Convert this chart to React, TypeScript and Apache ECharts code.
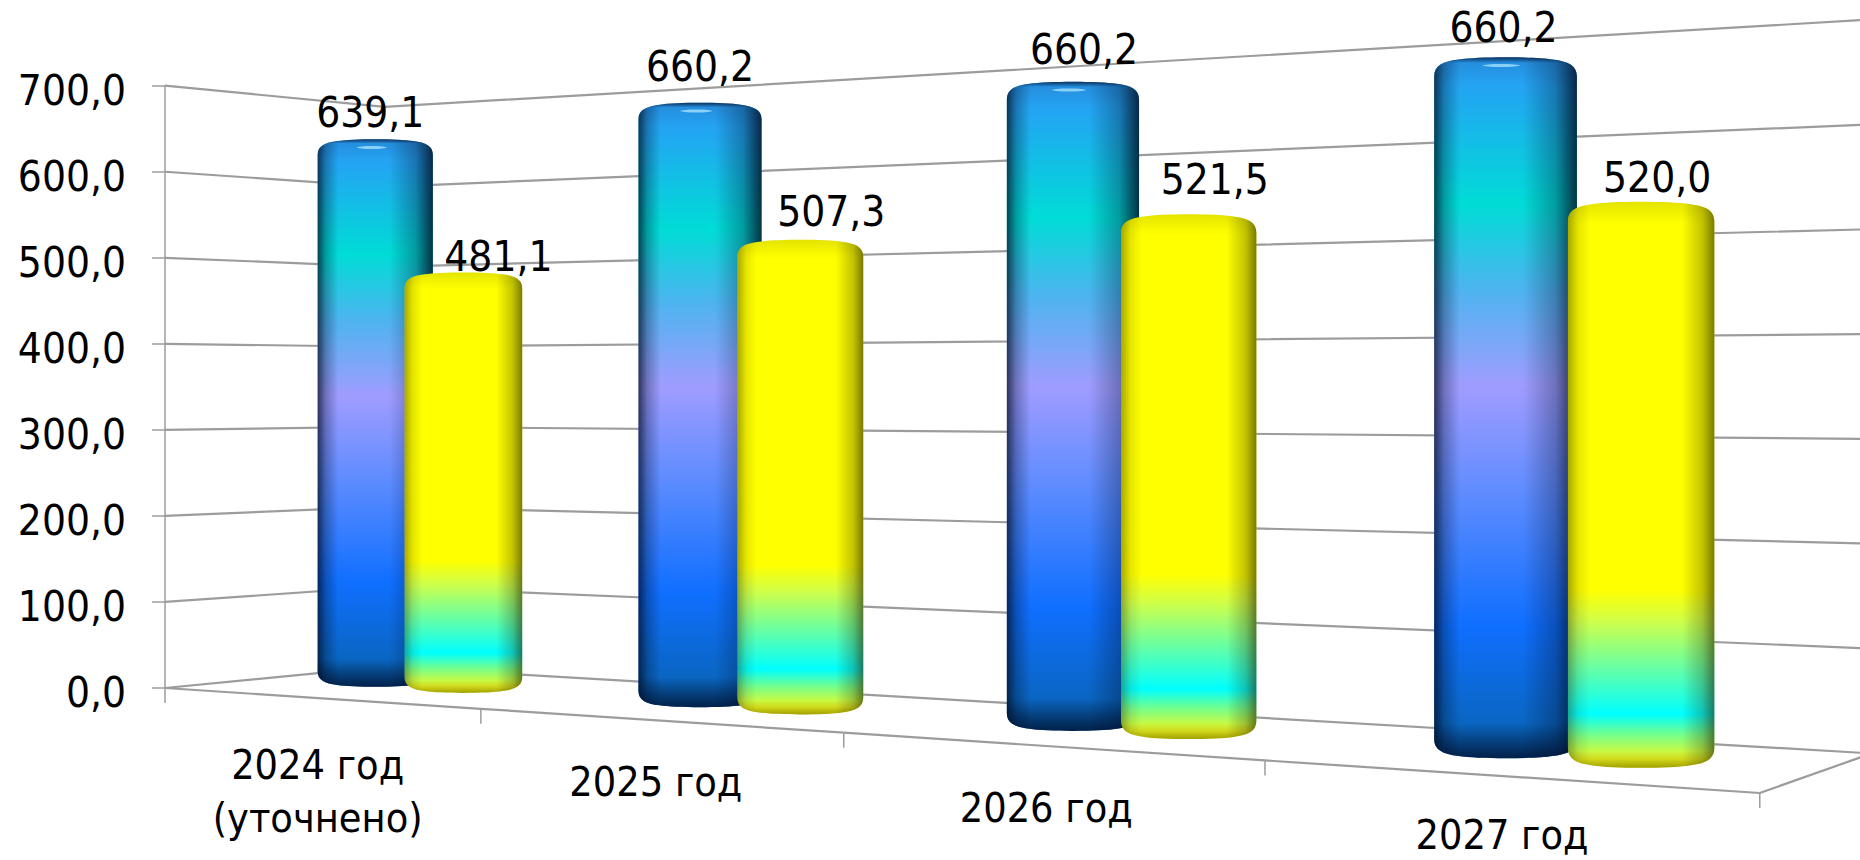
import React, { useEffect, useRef } from "react";
import * as echarts from "echarts";

const categories = ["2024 год\n(уточнено)", "2025 год", "2026 год", "2027 год"];
const blueValues = [639.1, 660.2, 660.2, 660.2];
const yellowValues = [481.1, 507.3, 521.5, 520.0];
const wallTicks = [0, 100, 200, 300, 400, 500, 600, 700];

// label nudges (px from the top centre of a bar)
const blueNudge = [[-5, -26], [0, -36], [11, -31], [-2, -29]];
const yellowNudge = [[35, -15], [31, -28], [26, -34], [16, -24]];

const GL = 165, GT = 85.7, GW = 1595, GH = 602.3;
const FONT = "'DejaVu Sans Condensed','DejaVu Sans',sans-serif";
const GRID = "#9c9c9c";
const BAR_DEPTH = 0.33;
const fmt = (v: number) => v.toFixed(1).replace(".", ",");

const wOf = (s: number, d: number) => 1 - 0.259 * s + 0.092 * d;
function project(s: number, d: number, h: number): [number, number] {
  const W = wOf(s, d);
  return [
    (GL + 1139 * s + 255 * d) / W,
    (GL + 523 - 100.4 * s + 40 * d - h * (1 + 0.015 * d)) / W,
  ];
}

function barPath(x0: number, x1: number, top: number, bot: number) {
  const w = x1 - x0;
  const r = 0.14 * w;
  return [
    `M${x0},${top + r}`,
    `C${x0},${top + r * 0.45} ${x0 + 0.06 * w},${top + r * 0.25} ${x0 + 0.17 * w},${top + r * 0.15}`,
    `C${x0 + 0.3 * w},${top} ${x1 - 0.3 * w},${top} ${x1 - 0.17 * w},${top + r * 0.15}`,
    `C${x1 - 0.06 * w},${top + r * 0.25} ${x1},${top + r * 0.45} ${x1},${top + r}`,
    `L${x1},${bot - r}`,
    `C${x1},${bot - r * 0.45} ${x1 - 0.06 * w},${bot - r * 0.25} ${x1 - 0.17 * w},${bot - r * 0.15}`,
    `C${x1 - 0.3 * w},${bot} ${x0 + 0.3 * w},${bot} ${x0 + 0.17 * w},${bot - r * 0.15}`,
    `C${x0 + 0.06 * w},${bot - r * 0.25} ${x0},${bot - r * 0.45} ${x0},${bot - r}`,
    "Z",
  ].join(" ");
}

const LG = echarts.graphic.LinearGradient;
const stops = (a: [number, string][]) => a.map(([offset, color]) => ({ offset, color }));

const blueFill = () =>
  new LG(0, 0, 0, 1, stops([
    [0, "#2a9cf2"], [0.05, "#22a6f2"], [0.21, "#00dcd6"], [0.33, "#4db4f0"],
    [0.47, "#a09cff"], [0.62, "#5f8cff"], [0.81, "#0f6fff"], [1, "#0862ac"],
  ]));
const yellowFill = () =>
  new LG(0, 0, 0, 1, stops([
    [0, "#f6f600"], [0.03, "#ffff00"], [0.685, "#ffff00"], [0.74, "#d0ff48"],
    [0.905, "#00ffff"], [0.94, "#70ff90"], [0.985, "#f0f820"], [1, "#d8d800"],
  ]));
const blueSide = () =>
  new LG(0, 0, 1, 0, stops([
    [0, "rgba(0,10,30,0.72)"], [0.07, "rgba(0,10,30,0.3)"], [0.18, "rgba(0,10,30,0)"],
    [0.62, "rgba(0,10,30,0)"], [0.85, "rgba(0,10,30,0.3)"], [1, "rgba(0,10,30,0.8)"],
  ]));
const yellowSide = () =>
  new LG(0, 0, 1, 0, stops([
    [0, "rgba(40,40,0,0.4)"], [0.07, "rgba(40,40,0,0.12)"], [0.15, "rgba(40,40,0,0)"],
    [0.78, "rgba(40,40,0,0)"], [0.92, "rgba(40,40,0,0.28)"], [1, "rgba(40,40,0,0.62)"],
  ]));
const blueCaps = () =>
  new LG(0, 0, 0, 1, stops([
    [0, "rgba(0,10,40,0.75)"], [0.008, "rgba(0,10,40,0.1)"], [0.04, "rgba(0,10,40,0)"],
    [0.95, "rgba(0,10,40,0)"], [1, "rgba(0,10,40,0.75)"],
  ]));
const yellowCaps = () =>
  new LG(0, 0, 0, 1, stops([
    [0, "rgba(60,60,0,0.1)"], [0.04, "rgba(60,60,0,0)"],
    [0.97, "rgba(60,60,0,0)"], [1, "rgba(60,60,0,0.35)"],
  ]));

// fine horizontal correction of a bar's centre on the screen
const shiftOf = (isBlue: boolean, s: number) => (isBlue ? 26 - 6 * s : 17.5 - 14 * s);

function barSeries(name: string, values: number[], offset: number, isBlue: boolean, z: number) {
  return {
    type: "custom",
    name,
    z,
    coordinateSystem: "cartesian2d",
    clip: false,
    encode: { x: 0, y: 1 },
    data: values.map((v, i) => [i, v]),
    renderItem: (params: any, api: any) => {
      const cs = params.coordSys;
      const i = api.value(0);
      const band = api.size([1, 0])[0];
      const base = api.coord([i, 0]);
      const head = api.coord([i, api.value(1)]);
      const s = (base[0] - cs.x + offset * band) / cs.width;
      const [px, bot] = project(s, BAR_DEPTH, 0);
      const [, top] = project(s, BAR_DEPTH, base[1] - head[1]);
      const cx = px + shiftOf(isBlue, s);
      const w = 116 / wOf(s, BAR_DEPTH);
      const d = barPath(cx - w / 2, cx + w / 2, top, bot);
      const kids: any[] = [
        { type: "path", shape: { pathData: d }, style: { fill: isBlue ? blueFill() : yellowFill() } },
        { type: "path", shape: { pathData: d }, style: { fill: isBlue ? blueSide() : yellowSide() } },
        { type: "path", shape: { pathData: d }, style: { fill: isBlue ? blueCaps() : yellowCaps() } },
      ];
      if (isBlue) {
        kids.push({
          type: "ellipse",
          shape: { cx: cx - w * 0.03, cy: top + 9, rx: w * 0.13, ry: 1.5 },
          style: { fill: "rgba(170,230,255,0.75)" },
        });
      }
      return { type: "group", children: kids };
    },
  };
}

function labelSeries(values: number[], offset: number, nudge: number[][], isBlue: boolean) {
  return {
    type: "custom",
    z: 20,
    coordinateSystem: "cartesian2d",
    clip: false,
    encode: { x: 0, y: 1 },
    data: values.map((v, i) => [i, v]),
    renderItem: (params: any, api: any) => {
      const cs = params.coordSys;
      const i = api.value(0);
      const v = api.value(1);
      const band = api.size([1, 0])[0];
      const base = api.coord([i, 0]);
      const head = api.coord([i, v]);
      const s = (base[0] - cs.x + offset * band) / cs.width;
      const [px, top] = project(s, BAR_DEPTH, base[1] - head[1]);
      return {
        type: "text",
        style: {
          text: fmt(v), x: px + shiftOf(isBlue, s) + nudge[i][0], y: top + nudge[i][1],
          align: "center", verticalAlign: "middle",
          font: `42px ${FONT}`, fill: "#000",
        },
      };
    },
  };
}

const lineEl = (pts: number[][], width: number) => ({
  type: "polyline",
  shape: { points: pts },
  style: { stroke: GRID, lineWidth: width, fill: "none" },
});

const wallSeries = {
  type: "custom",
  z: 1,
  coordinateSystem: "cartesian2d",
  clip: false,
  encode: { x: 0, y: 1 },
  data: wallTicks.map((t) => [0, t]),
  renderItem: (params: any, api: any) => {
    const h = api.coord([0, 0])[1] - api.coord([0, api.value(1)])[1];
    return lineEl([project(0, 0, h), project(0, 1, h), project(1, 1, h)], 2.2);
  },
};

const floorSeries = {
  type: "custom",
  z: 2,
  coordinateSystem: "cartesian2d",
  clip: false,
  encode: { x: 0, y: 1 },
  data: categories.map((_, i) => [i, 0]),
  renderItem: (params: any, api: any) => {
    const cs = params.coordSys;
    const i = api.value(0);
    const band = api.size([1, 0])[0];
    const s1 = (api.coord([i, 0])[0] - cs.x + band / 2) / cs.width;
    const s0 = s1 - band / cs.width;
    const a = project(s0, 0, 0);
    const b = project(s1, 0, 0);
    const kids: any[] = [
      lineEl([a, b], 2.2),
      lineEl([b, [b[0], b[1] + 15]], 1.5),
    ];
    if (i === 0) kids.push(lineEl([a, [a[0], a[1] + 15]], 1.5));
    if (i === categories.length - 1) kids.push(lineEl([b, project(1, 1, 0)], 2.2));
    return { type: "group", children: kids };
  },
};

const catLabelSeries = {
  type: "custom",
  z: 20,
  coordinateSystem: "cartesian2d",
  clip: false,
  encode: { x: 0, y: 1 },
  data: categories.map((_, i) => [i, 0]),
  renderItem: (params: any, api: any) => {
    const cs = params.coordSys;
    const i = api.value(0);
    const s = (api.coord([i, 0])[0] - cs.x) / cs.width;
    const [cx, cy] = project(s, 0, 0);
    const lines = categories[i].split("\n");
    return {
      type: "group",
      children: lines.map((t, k) => ({
        type: "text",
        style: {
          text: t, x: cx, y: Math.min(835, cy + (lines.length > 1 ? 67 : 62)) + k * 53,
          align: "center", verticalAlign: "middle",
          font: `41px ${FONT}`, fill: "#000",
        },
      })),
    };
  },
};

export default function App() {
  const ref = useRef<HTMLDivElement>(null);
  useEffect(() => {
    document.body.style.margin = "0";
    const chart = echarts.init(ref.current!, undefined, { renderer: "svg" });
    chart.setOption({
      animation: false,
      backgroundColor: "#fff",
      grid: { left: GL, top: GT, width: GW, height: GH, containLabel: false },
      xAxis: {
        type: "category",
        data: categories,
        axisLine: { show: false },
        axisTick: { show: false },
        axisLabel: { show: false },
      },
      yAxis: {
        type: "value",
        min: 0,
        max: 700,
        interval: 100,
        splitLine: { show: false },
        axisLine: { show: true, lineStyle: { color: GRID, width: 1.5 } },
        axisTick: { show: true, length: 13, lineStyle: { color: GRID, width: 1.5 } },
        axisLabel: {
          margin: 39,
          formatter: (v: number) => `{t|${fmt(v)}}`,
          rich: {
            t: {
              fontFamily: FONT,
              fontSize: 42,
              color: "#000",
              padding: [9, 0, 0, 0],
            },
          },
        },
      },
      series: [
        wallSeries,
        floorSeries,
        barSeries("Синий", blueValues, -0.138, true, 5),
        barSeries("Жёлтый", yellowValues, 0.178, false, 6),
        labelSeries(blueValues, -0.138, blueNudge, true),
        labelSeries(yellowValues, 0.178, yellowNudge, false),
        catLabelSeries,
      ],
    });
    return () => chart.dispose();
  }, []);
  return <div ref={ref} style={{ position: "absolute", left: 0, top: 0, width: 1860, height: 860 }} />;
}
